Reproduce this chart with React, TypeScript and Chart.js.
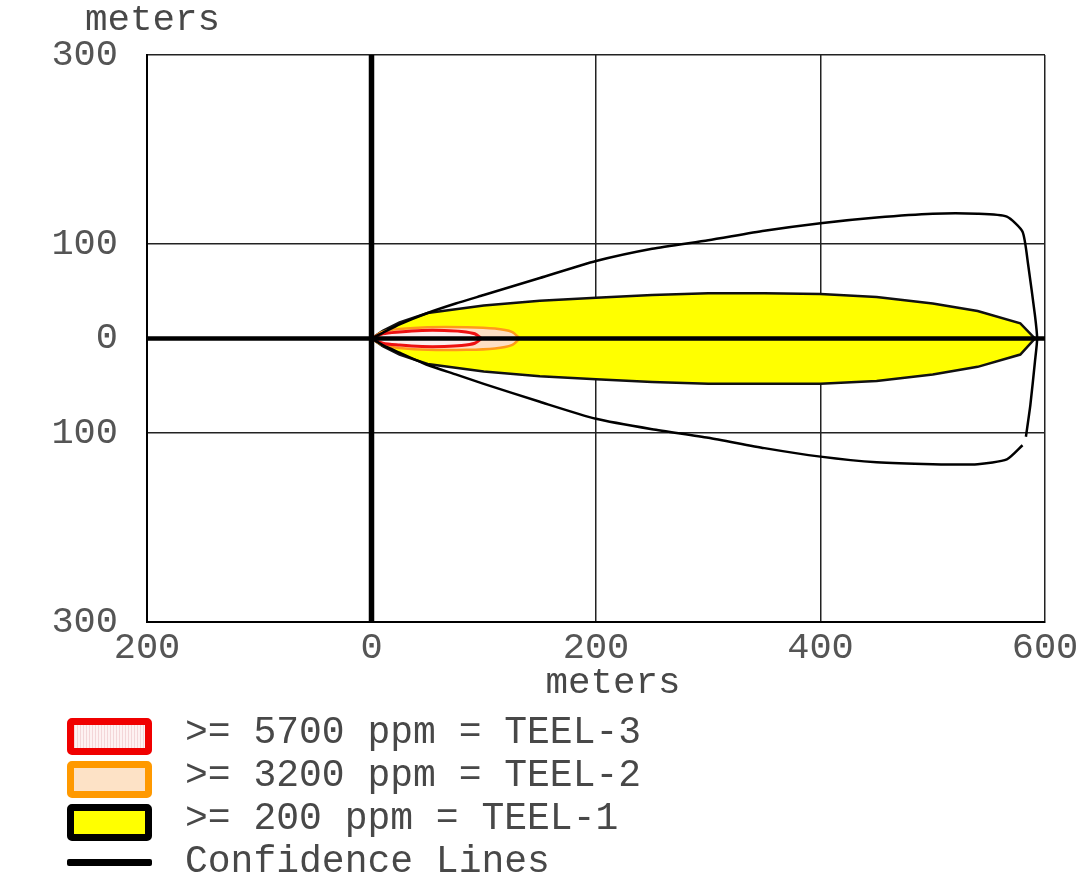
import React, { useEffect, useRef } from 'react';
import { Chart, registerables } from 'chart.js';
Chart.register(...registerables);

const xTicks = [-200, 0, 200, 400, 600];
const yTicks = [-300, -100, 0, 100, 300];

const teel1X = [0, 10, 25, 50, 100, 150, 200, 250, 300, 350, 400, 450, 500, 540, 578, 591];
const teel1Upper = [0, 8, 17, 27, 35, 40, 43, 46, 48, 48, 47, 44, 37, 29, 16, 0];
const teel1Lower = [0, -8, -17, -27, -35, -40, -43, -46, -48, -48, -48, -45, -38, -30, -17, 0];

const teel2X = [0, 10, 25, 50, 85, 110, 125, 132];
const teel2Upper = [0, 7, 10, 12, 12, 10.5, 7, 0];
const teel2Lower = [0, -7, -10, -12, -12, -10.5, -7, 0];

const teel3X = [0, 10, 25, 45, 65, 80, 92, 98];
const teel3Upper = [0, 5, 7, 8.5, 8.5, 7.5, 5, 0];
const teel3Lower = [0, -5, -7, -8.5, -8.5, -7.5, -5, 0];

const confUpperX = [0, 10, 25, 50, 75, 100, 150, 200, 250, 300, 350, 400, 450, 500, 540, 566, 580, 585, 591, 593, 591, 587, 583];
const confUpperY = [0, 6, 15, 27, 37, 46, 64, 82, 95, 104, 114, 122, 128, 132, 132, 129, 113, 78, 25, 0, -25, -70, -104];
const confLowerX = [0, 10, 25, 50, 75, 100, 150, 200, 250, 300, 350, 400, 450, 500, 540, 566, 580];
const confLowerY = [0, -7, -15, -28, -38, -48, -67, -85, -96, -105, -116, -125, -131, -133, -133, -128, -113];

const centerLineX = [-200, 600];
const centerLineY = [0, 0];
const sourceLineX = [0, 0];
const sourceLineY = [-300, 300];

const legendLabels = ['>= 5700 ppm = TEEL-3', '>= 3200 ppm = TEEL-2', '>= 200 ppm = TEEL-1', 'Confidence Lines'];

const FONT = '"Liberation Mono", "DejaVu Sans Mono", monospace';

function pts(xs: number[], ys: number[]) {
  return xs.map((x, i) => ({ x, y: ys[i] }));
}
function polygon(xs: number[], upper: number[], lower: number[]) {
  const top = pts(xs, upper);
  const bottom = pts(xs, lower).reverse();
  return top.concat(bottom);
}

function Label({ text, left, cy, center, size }: { text: string; left: number; cy: number; center?: boolean; size?: number }) {
  return (
    <div
      style={{
        position: 'absolute',
        left: center ? left - 200 : left,
        width: center ? 400 : undefined,
        textAlign: center ? 'center' : 'left',
        top: cy - 20,
        height: 40,
        lineHeight: '40px',
        fontFamily: FONT,
        fontSize: size || 37,
        color: '#484848',
        whiteSpace: 'pre',
      }}
    >
      {text}
    </div>
  );
}

export default function App() {
  const ref = useRef<HTMLCanvasElement | null>(null);
  useEffect(() => {
    if (!ref.current) return;
    const chart = new Chart(ref.current, {
      type: 'scatter',
      data: {
        datasets: [
          {
            data: polygon(teel1X, teel1Upper, teel1Lower),
            showLine: true,
            fill: 'shape',
            backgroundColor: '#ffff00',
            borderColor: '#111',
            borderWidth: 2.5,
            pointRadius: 0,
            tension: 0,
            order: 10,
          },
          {
            data: polygon(teel2X, teel2Upper, teel2Lower),
            showLine: true,
            fill: 'shape',
            backgroundColor: '#fde0c4',
            borderColor: '#ff9a1a',
            borderWidth: 2.5,
            pointRadius: 0,
            tension: 0.3,
            order: 9,
          },
          {
            data: polygon(teel3X, teel3Upper, teel3Lower),
            showLine: true,
            fill: 'shape',
            backgroundColor: '#fbeeee',
            borderColor: '#ee1111',
            borderWidth: 3,
            pointRadius: 0,
            tension: 0.3,
            order: 8,
          },
          {
            data: pts(confUpperX, confUpperY),
            showLine: true,
            borderColor: '#000',
            borderWidth: 2.5,
            pointRadius: 0,
            tension: 0.2,
            order: 7,
          },
          {
            data: pts(confLowerX, confLowerY),
            showLine: true,
            borderColor: '#000',
            borderWidth: 2.5,
            pointRadius: 0,
            tension: 0.2,
            order: 6,
          },
          {
            data: pts(centerLineX, centerLineY),
            showLine: true,
            borderColor: '#000',
            borderWidth: 4.5,
            pointRadius: 0,
            order: 2,
          },
          {
            data: pts(sourceLineX, sourceLineY),
            showLine: true,
            borderColor: '#000',
            borderWidth: 5.5,
            pointRadius: 0,
            order: 1,
          },
        ],
      },
      options: {
        animation: false,
        responsive: false,
        devicePixelRatio: 1,
        layout: { padding: { left: 0, top: 55, right: 34, bottom: 196 } },
        plugins: { legend: { display: false }, tooltip: { enabled: false } },
        scales: {
          x: {
            type: 'linear',
            min: -200,
            max: 600,
            afterBuildTicks: (s: any) => {
              s.ticks = xTicks.map((v) => ({ value: v }));
            },
            afterFit: (s: any) => {
              s.height = 60;
              s.paddingLeft = 0;
              s.paddingRight = 0;
            },
            ticks: {
              callback: (v: any) => String(Math.abs(Number(v))),
              font: { family: FONT, size: 37 },
              color: '#555',
              padding: 4,
              maxRotation: 0,
              autoSkip: false,
            },
            grid: { color: '#222', lineWidth: 1.5, drawTicks: false },
            border: { color: '#000', width: 2 },
          },
          y: {
            type: 'linear',
            min: -300,
            max: 300,
            afterBuildTicks: (s: any) => {
              s.ticks = yTicks.map((v) => ({ value: v }));
            },
            afterFit: (s: any) => {
              s.width = 147;
              s.paddingTop = 0;
              s.paddingBottom = 0;
            },
            ticks: {
              callback: (v: any) => String(Math.abs(Number(v))),
              font: { family: FONT, size: 37 },
              color: '#555',
              padding: 29,
              autoSkip: false,
            },
            grid: { color: '#222', lineWidth: 1.5, drawTicks: false },
            border: { color: '#000', width: 2 },
          },
        },
      },
    } as any);
    return () => chart.destroy();
  }, []);

  const boxBase: React.CSSProperties = {
    position: 'absolute',
    left: 67,
    width: 85,
    height: 37,
    boxSizing: 'border-box',
    borderWidth: 7,
    borderStyle: 'solid',
    borderRadius: 5,
  };

  return (
    <div style={{ position: 'absolute', left: 0, top: 0, width: 1079, height: 878, background: '#fff', overflow: 'hidden' }}>
      <canvas ref={ref} width={1079} height={878} style={{ position: 'absolute', left: 0, top: 0 }} />
      <Label text="meters" left={85} cy={20} size={37.5} />
      <Label text="meters" left={613} cy={683} center size={37.5} />
      <div
        style={{
          ...boxBase,
          top: 718,
          borderColor: '#f00000',
          background: 'repeating-linear-gradient(90deg, #f3d6d8 0px, #f3d6d8 1px, #fdf2f2 1px, #fdf2f2 3px)',
        }}
      />
      <div style={{ ...boxBase, top: 761, borderColor: '#ff9900', background: '#fde2c6' }} />
      <div style={{ ...boxBase, top: 804, borderColor: '#000', background: '#ffff00' }} />
      <div style={{ position: 'absolute', left: 67, top: 859, width: 85, height: 7, background: '#000', borderRadius: 2 }} />
      <Label text={legendLabels[0]} left={185} cy={733} size={38} />
      <Label text={legendLabels[1]} left={185} cy={776} size={38} />
      <Label text={legendLabels[2]} left={185} cy={819} size={38} />
      <Label text={legendLabels[3]} left={185} cy={862} size={38} />
    </div>
  );
}
